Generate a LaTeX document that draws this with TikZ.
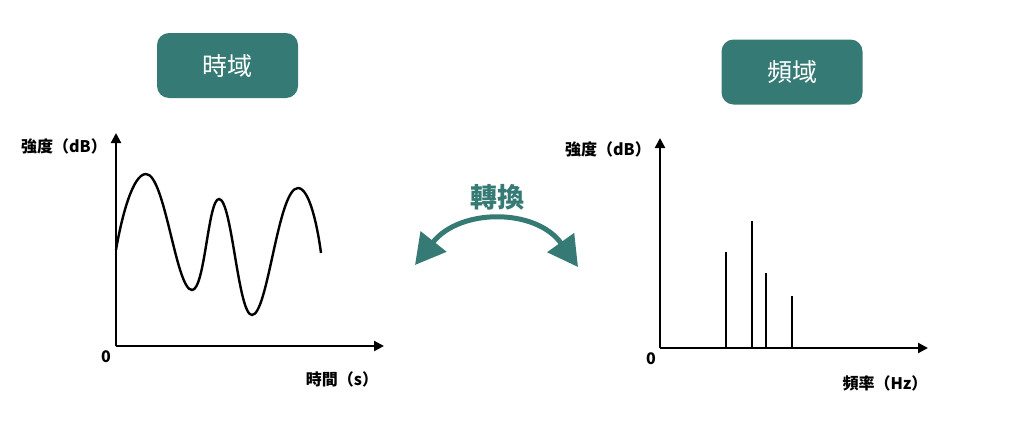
\documentclass[tikz,border=0pt]{standalone}
\usepackage{fontspec}
\setmainfont{Noto Sans CJK TC}
\usetikzlibrary{arrows.meta}
\definecolor{teal1}{HTML}{357A74}
\begin{document}
\begin{tikzpicture}[x=1pt,y=-1pt,
  titlebox/.style={fill=teal1,rounded corners=12pt,minimum width=141pt,minimum height=65pt,text=white,font=\fontsize{25}{28}\selectfont},
  axis/.style={line width=2.2pt,-{Triangle[length=10pt,width=10pt]}},
  lbl/.style={font=\fontsize{16}{18}\selectfont\bfseries,inner sep=0pt},
  wave/.style={line width=2.4pt},
  bar/.style={line width=2.2pt}]
\useasboundingbox (0,0) rectangle (1024,434);
% titles
\node[titlebox] (t1) at (227.5,65.5) {時域};
\node[titlebox] (t2) at (792,72) {頻域};
% left axes
\coordinate (o1) at (116,346);
\coordinate (y1) at (116,133);
\coordinate (x1) at (384,346);
\draw[axis] (o1) -- (y1);
\draw[axis] (o1) -- (x1);
\node[lbl] (z1) at (106,357) {0};
\node[lbl,anchor=east] (ly1) at (107,146) {強度（dB）};
\node[lbl] (lx1) at (342,379) {時間（s）};
% wave
\draw[wave] (116,250) .. controls (122,215) and (133,174) .. (146,174)
  .. controls (165,174) and (176,290) .. (192,290)
  .. controls (205,290) and (208,199) .. (219,199)
  .. controls (232,199) and (238,315) .. (252,315)
  .. controls (268,315) and (278,188) .. (298,188)
  .. controls (310,188) and (318,230) .. (321,253);
% right axes
\coordinate (o2) at (660,348);
\coordinate (y2) at (660,138);
\coordinate (x2) at (928,348);
\draw[axis] (o2) -- (y2);
\draw[axis] (o2) -- (x2);
\node[lbl] (z2) at (651,359) {0};
\node[lbl,anchor=east] (ly2) at (651,149) {強度（dB）};
\node[lbl] (lx2) at (885,383) {頻率（Hz）};
% bars
\draw[bar] (726,348) -- (726,252);
\draw[bar] (752,348) -- (752,221);
\draw[bar] (766,348) -- (766,273);
\draw[bar] (792,348) -- (792,296);
% conversion arrow
\node[font=\fontsize{27}{30}\selectfont\bfseries,text=teal1] (conv) at (497,197) {轉換};
\coordinate (al) at (415,265);
\coordinate (ar) at (578,267);
\draw[teal1,line width=5pt,{Triangle[length=30pt,width=32pt]}-{Triangle[length=30pt,width=32pt]}]
  (al) .. controls (460,208) and (536,208) .. (ar);
\end{tikzpicture}
\end{document}
